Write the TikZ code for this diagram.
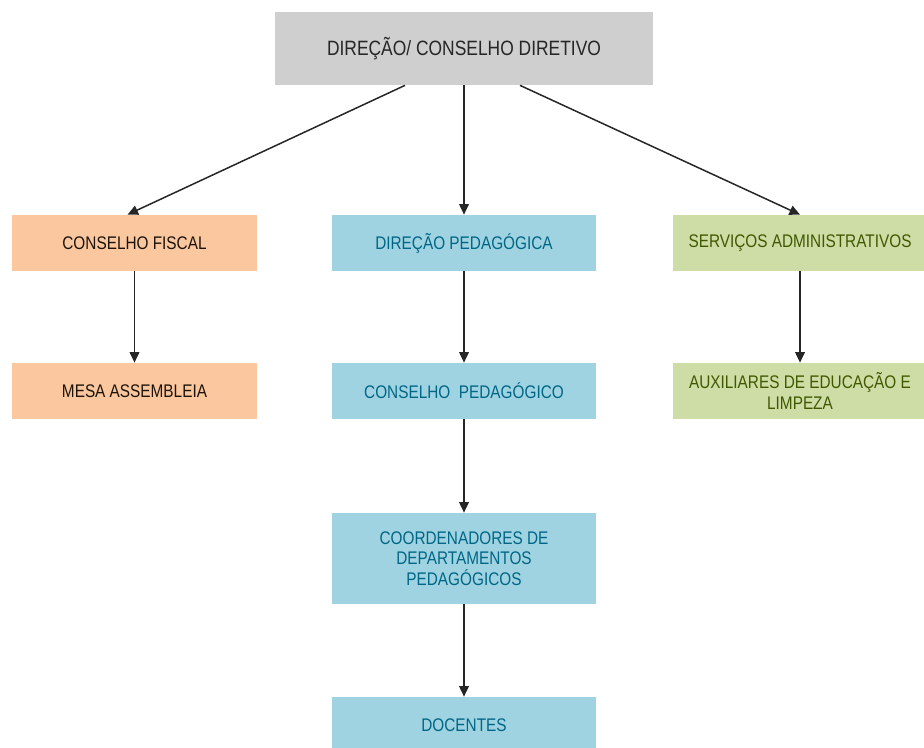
\documentclass[tikz,border=0pt]{standalone}
\usepackage{fontspec}
\setmainfont{Liberation Sans}[FakeStretch=0.84]
\usetikzlibrary{arrows.meta}
\definecolor{cinza}{HTML}{CFCFCF}
\definecolor{laranja}{HTML}{FAC79E}
\definecolor{azul}{HTML}{9FD3E2}
\definecolor{verde}{HTML}{CEDDA6}
\begin{document}
\begin{tikzpicture}[x=0.2mm, y=-0.2mm, font=\fontsize{10.4}{11.5}\selectfont,
    caixa/.style = {inner sep=0pt, align=center, minimum height=11.2mm},
    topo/.style = {caixa, fill=cinza, text=black!85, font=\fontsize{11.8}{13}\selectfont, minimum width=75.6mm, minimum height=14.6mm},
    fiscal/.style = {caixa, fill=laranja, text=black!85!brown, minimum width=49mm},
    pedag/.style = {caixa, fill=azul, text=black!80!blue!60!cyan, minimum width=52.8mm},
    admin/.style = {caixa, fill=verde, text=black!80!green!50!olive, minimum width=51mm},
    seta/.style = {-{Triangle[width=5.5pt,length=6pt]}, line width=0.85pt, black!85}]
    % area da figura
    \useasboundingbox (0,0) rectangle (924,747);

    % caixas
    \node[topo] (dir) at (464,48.5) {DIREÇÃO/ CONSELHO DIRETIVO};

    \node[fiscal] (cf) at (134.5,243) {CONSELHO FISCAL};
    \node[fiscal] (ma) at (134.5,391) {MESA ASSEMBLEIA};

    \node[pedag] (dp) at (464,243) {DIREÇÃO PEDAGÓGICA};
    \node[pedag] (cp) at (464,391) {CONSELHO\ \ PEDAGÓGICO};
    \node[pedag, minimum height=18.2mm] (cd) at (464,558.5) {COORDENADORES DE\\DEPARTAMENTOS\\PEDAGÓGICOS};
    \node[pedag] (doc) at (464,725) {DOCENTES};

    \node[admin] (sa) at (800,243) {SERVIÇOS ADMINISTRATIVOS};
    \node[admin] (aux) at (800,391) {AUXILIARES DE EDUCAÇÃO E\\LIMPEZA};

    % setas
    \draw[seta] ([xshift=-11.8mm]dir.south) -- ([xshift=-1.4mm]cf.north);
    \draw[seta] (dir) -- (dp);
    \draw[seta] ([xshift=11.2mm]dir.south) -- (sa.north);

    \draw[seta] (cf) -- (ma);
    \draw[seta] (dp) -- (cp);
    \draw[seta] (cp) -- (cd);
    \draw[seta] (cd) -- (doc);
    \draw[seta] (sa) -- (aux);
\end{tikzpicture}
\end{document}
